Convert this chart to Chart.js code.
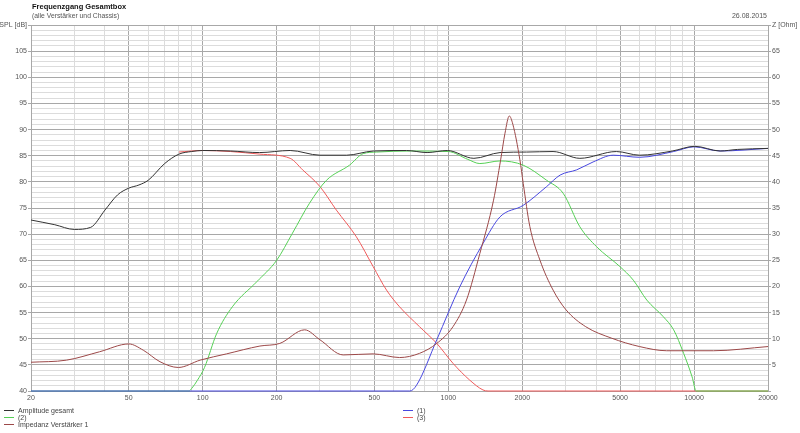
<!DOCTYPE html>
<html>
<head>
<meta charset="utf-8">
<script src="https://cdn.jsdelivr.net/npm/chart.js@4.4.0/dist/chart.umd.min.js"></script>
<style>
  body { margin: 0; background: #fff; font-family: "Liberation Sans", Arial, sans-serif; }
  #wrap { position: relative; width: 800px; height: 433px; }
  #title { position: absolute; left: 32px; top: 2px; font-size: 7.5px; font-weight: bold; color: #111; }
  #subtitle { position: absolute; left: 32px; top: 12px; font-size: 6.8px; color: #555; }
  #date { position: absolute; right: 33px; top: 12px; font-size: 7px; color: #555; }
  .leg { position: absolute; font-size: 7px; color: #444; line-height: 7px; }
  .leg div { position: relative; height: 7px; padding-left: 14px; white-space: nowrap; }
  .leg span.ln { position: absolute; left: 0; top: 3px; width: 10px; height: 1px; }
</style>
</head>
<body>
<div id="wrap">
  <canvas id="c" width="800" height="433"></canvas>
  <div id="title">Frequenzgang Gesamtbox</div>
  <div id="subtitle">(alle Verstärker und Chassis)</div>
  <div id="date">26.08.2015</div>
  <div class="leg" id="leg1" style="left:4px; top:407px;"></div>
  <div class="leg" id="leg2" style="left:403px; top:407px;"></div>
</div>
<script>
// Achsen
const xTickLabels = [20, 50, 100, 200, 500, 1000, 2000, 5000, 10000, 20000];

// Amplitude gesamt [dB]
const gesamtFreq = [20, 25, 30, 35, 40, 45, 50, 55, 60, 70, 80, 90, 100, 130, 170, 227, 300, 385, 495, 676, 819, 990, 1270, 1622, 2080, 2667, 3430, 4830, 6000, 8160, 10070, 12770, 15000, 20000];
const gesamtDb = [72.7, 71.8, 70.9, 71.3, 74.6, 77.5, 78.8, 79.4, 80.3, 83.5, 85.3, 85.8, 86.0, 85.9, 85.6, 86.0, 85.1, 85.1, 85.9, 86.0, 85.6, 86.0, 84.5, 85.6, 85.7, 85.8, 84.5, 85.8, 85.1, 85.9, 86.8, 85.9, 86.2, 86.4];

// (2) [dB]
const zweiFreq = [20, 88, 90.2, 95, 101.7, 114, 132, 166, 200, 232, 272, 319, 396, 450, 510, 700, 1000, 1200, 1343, 1622, 2015, 2512, 2934, 3430, 4010, 4990, 5660, 6420, 7500, 8260, 9070, 9820, 10200, 20000];
const zweiDb = [40, 40, 40.5, 42, 44.5, 51, 56.1, 60.9, 65.0, 70.2, 75.9, 80.3, 83.2, 85.4, 85.7, 85.9, 85.8, 84.3, 83.5, 84.0, 83.2, 80.3, 77.8, 71.4, 67.6, 63.8, 61.2, 57.4, 54.2, 51.7, 47.2, 42.7, 40, 40];

// (1) [dB]
const einsFreq = [20, 697, 742, 897, 1112, 1383, 1622, 2015, 2512, 2850, 3330, 3880, 4690, 6000, 8260, 10000, 12770, 20000];
const einsDb = [40, 40, 41.1, 49.8, 59.9, 68.2, 73.3, 75.5, 79.1, 81.3, 82.3, 83.8, 85.1, 84.7, 85.8, 86.7, 85.9, 86.4];

// (3) [dB]
const dreiFreq = [80, 100, 130, 171, 227, 255, 300, 350, 422, 494, 560, 633, 763, 897, 1044, 1220, 1383, 1450, 20000];
const dreiDb = [85.7, 86.0, 85.8, 85.3, 84.5, 82.3, 79.1, 74.6, 69.5, 63.8, 59.3, 56.1, 52.3, 49.1, 45.3, 42.1, 40.2, 40, 40];

// Impedanz Verstärker 1 [Ohm]
const impFreq = [20, 27.9, 38, 50, 57.3, 67, 79.6, 97.6, 125, 171, 206, 260, 300, 373, 494, 633, 763, 897, 1044, 1185, 1343, 1527, 1632, 1700, 1770, 1830, 1955, 2017, 2145, 2360, 2668, 3015, 3623, 4620, 6000, 7740, 12000, 20000];
const impOhm = [5.5, 5.9, 7.5, 9.0, 7.8, 5.6, 4.5, 5.9, 7.1, 8.6, 9.1, 11.7, 9.8, 6.9, 7.1, 6.4, 7.2, 9.1, 12.3, 17.4, 26.3, 36.5, 44.2, 49.3, 52.6, 51.0, 44.2, 39.7, 31.5, 25.0, 19.3, 15.5, 12.3, 10.1, 8.5, 7.7, 7.7, 8.5];

const toPoints = (fs, vs) => fs.map((f, i) => ({ x: f, y: vs[i] }));

const MAJOR = '#a8a8a8';
const MINOR = '#dcdcdc';

function makeSet(label, fs, vs, color, axis, order) {
    return {
        label: label,
        data: toPoints(fs, vs),
        borderColor: color,
        backgroundColor: color,
        borderWidth: 1,
        pointRadius: 0,
        cubicInterpolationMode: 'monotone',
        yAxisID: axis,
        clip: 2,
        order: order
    };
}

const datasets = [
    makeSet('Amplitude gesamt', gesamtFreq, gesamtDb, '#333333', 'y', 1),
    makeSet('(2)', zweiFreq, zweiDb, '#55d055', 'y', 4),
    makeSet('Impedanz Verstärker 1', impFreq, impOhm, '#9c4848', 'y1', 0),
    makeSet('(1)', einsFreq, einsDb, '#4848e0', 'y', 3),
    makeSet('(3)', dreiFreq, dreiDb, '#f05a5a', 'y', 5)
];

const tickFont = { family: '"Liberation Sans", Arial, sans-serif', size: 7 };

new Chart(document.getElementById('c').getContext('2d'), {
    type: 'line',
    data: { datasets: datasets },
    options: {
        responsive: false,
        devicePixelRatio: 1,
        animation: false,
        layout: { padding: { top: 25, bottom: 29, left: 0, right: 0 } },
        plugins: { legend: { display: false }, tooltip: { enabled: false } },
        scales: {
            x: {
                type: 'logarithmic',
                min: 20,
                max: 20000,
                afterBuildTicks: scale => {
                    const ticks = [];
                    [10, 100, 1000, 10000].forEach(d => {
                        for (let m = 1; m <= 9; m++) {
                            const v = d * m;
                            if (v >= 20 && v <= 20000) ticks.push({ value: v });
                        }
                    });
                    scale.ticks = ticks;
                },
                afterFit: scale => { scale.height = 13; },
                ticks: {
                    autoSkip: false,
                    maxRotation: 0,
                    padding: 3,
                    color: '#555',
                    font: tickFont,
                    callback: v => xTickLabels.includes(v) ? String(v) : ''
                },
                grid: {
                    drawTicks: false,
                    color: ctx => xTickLabels.includes(ctx.tick && ctx.tick.value) ? MAJOR : MINOR
                },
                border: { color: MAJOR }
            },
            y: {
                position: 'left',
                min: 40,
                max: 110,
                afterFit: scale => { scale.width = 31; },
                afterBuildTicks: scale => {
                    const ticks = [];
                    for (let v = 40; v <= 110; v++) ticks.push({ value: v });
                    scale.ticks = ticks;
                },
                ticks: {
                    autoSkip: false,
                    padding: 1,
                    color: '#555',
                    font: tickFont,
                    callback: v => v === 110 ? 'SPL [dB]' : (v % 5 === 0 ? String(v) : '')
                },
                grid: {
                    tickLength: 3,
                    color: ctx => (ctx.tick && ctx.tick.value % 5 === 0) ? MAJOR : MINOR,
                    tickColor: ctx => (ctx.tick && ctx.tick.value % 5 === 0) ? MAJOR : 'rgba(0,0,0,0)'
                },
                border: { color: MAJOR }
            },
            y1: {
                position: 'right',
                min: 0,
                max: 70,
                afterFit: scale => { scale.width = 32; },
                afterBuildTicks: scale => {
                    const ticks = [];
                    for (let v = 0; v <= 70; v += 5) ticks.push({ value: v });
                    scale.ticks = ticks;
                },
                ticks: {
                    autoSkip: false,
                    padding: 1,
                    color: '#555',
                    font: tickFont,
                    callback: v => v === 70 ? 'Z [Ohm]' : (v === 0 ? '' : String(v))
                },
                grid: { drawOnChartArea: false, tickLength: 3, color: MAJOR },
                border: { color: MAJOR }
            }
        }
    }
});

// Legende (zwei Spalten wie im Original)
const legendCols = { leg1: ['Amplitude gesamt', '(2)', 'Impedanz Verstärker 1'], leg2: ['(1)', '(3)'] };
Object.keys(legendCols).forEach(id => {
    const el = document.getElementById(id);
    legendCols[id].forEach(name => {
        const ds = datasets.find(d => d.label === name);
        const row = document.createElement('div');
        row.innerHTML = `<span class="ln" style="background:${ds.borderColor}"></span>${name}`;
        el.appendChild(row);
    });
});
</script>
</body>
</html>
